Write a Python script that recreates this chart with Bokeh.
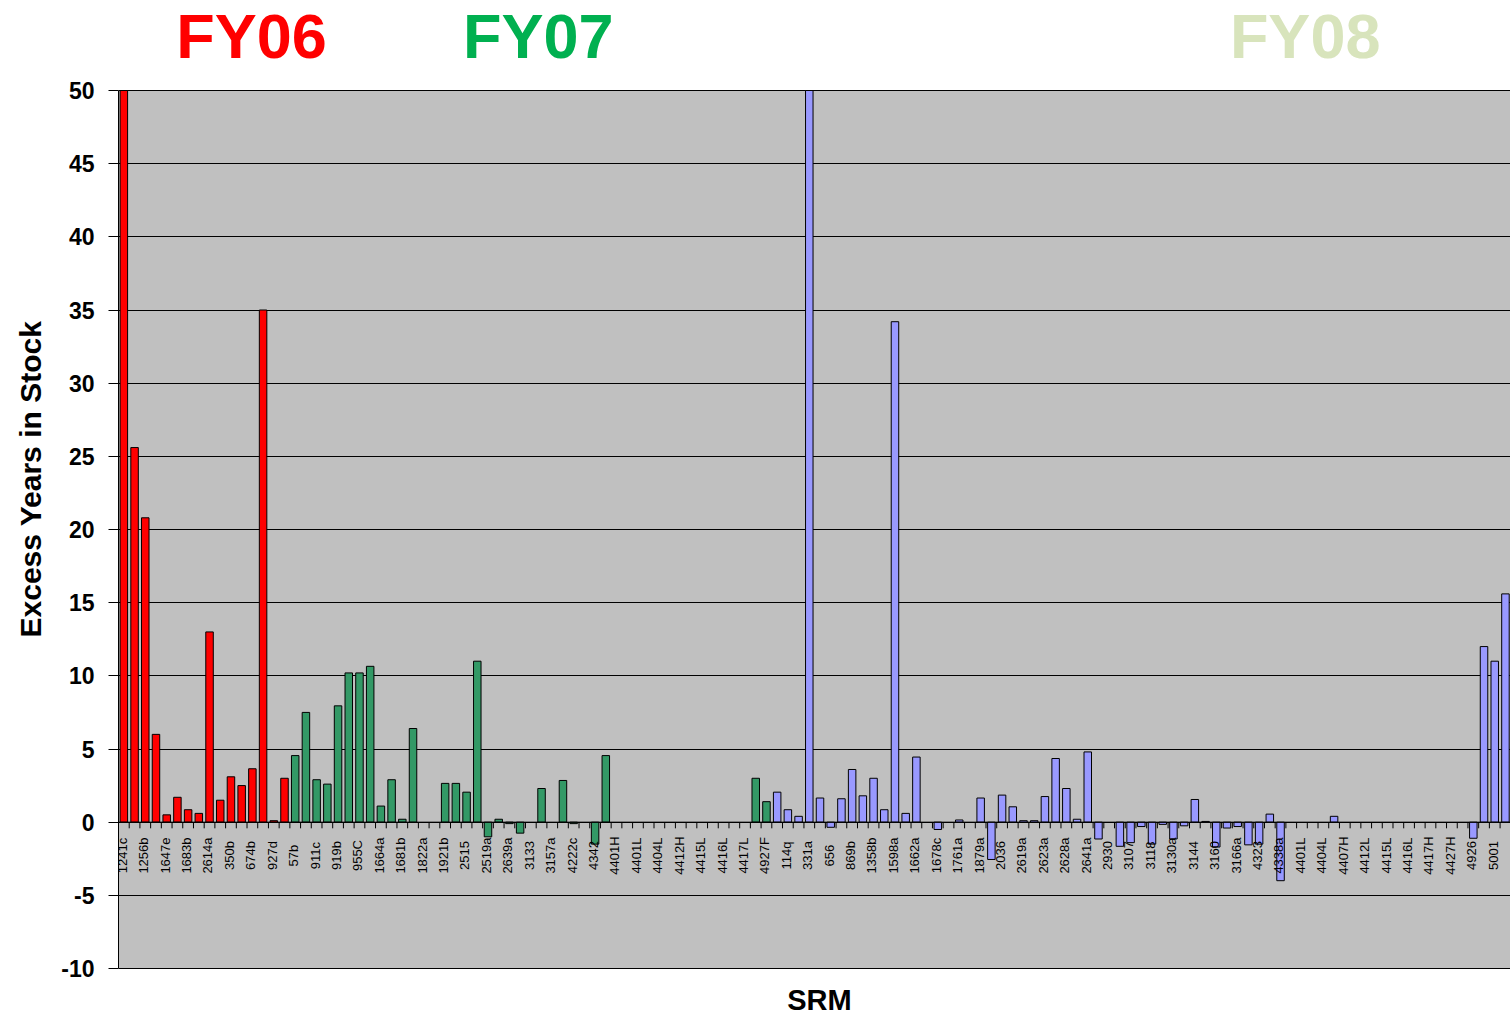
import math
from bokeh.plotting import figure
from bokeh.models import FixedTicker, Label, ColumnDataSource, Range1d, Title
from bokeh.core.properties import value
from bokeh.embed import file_html
from bokeh.resources import INLINE

# ---- data ----
srm_labels = ["1241c", "1256b", "1647e", "1683b", "2614a", "350b", "674b", "927d",
              "57b", "911c", "919b", "955C", "1664a", "1681b", "1822a", "1921b",
              "2515", "2519a", "2639a", "3133", "3157a", "4222c", "4342", "4401H",
              "4401L", "4404L", "4412H", "4415L", "4416L", "4417L", "4927F", "114q",
              "331a", "656", "869b", "1358b", "1598a", "1662a", "1678c", "1761a",
              "1879a", "2036", "2619a", "2623a", "2628a", "2641a", "2930", "3107",
              "3118", "3130a", "3144", "3160", "3166a", "4323", "4338a", "4401L",
              "4404L", "4407H", "4412L", "4415L", "4416L", "4417H", "4427H", "4926",
              "5001"]

fy06_values = [55, 25.6, 20.8, 6.0, 0.5, 1.7, 0.85, 0.6, 13.0, 1.5, 3.1, 2.5, 3.65,
               35.0, 0.1, 3.0]

fy07_values = [4.55, 7.5, 2.9, 2.6, 7.95, 10.2, 10.2, 10.65, 1.1, 2.9, 0.2, 6.4,
               None, None, 2.65, 2.65, 2.05, 11.0, -1.0, 0.2, -0.1, -0.75, None, 2.3,
               None, 2.85, -0.1, None, -1.5, 4.55,
               None, None, None, None, None, None, None, None, None, None, None, None, None,
               3.0, 1.4]

fy08_values = [2.05, 0.85, 0.4, 55, 1.65, -0.35, 1.6, 3.6, 1.8, 3.0, 0.85, 34.2, 0.6,
               4.45, None, -0.5, None, 0.15, None, 1.65, -2.55, 1.85, 1.05, 0.1, 0.1,
               1.75, 4.35, 2.3, 0.2, 4.8, -1.15, None, -1.65, -1.4, -0.3, -1.5, -0.15,
               -1.15, -0.25, 1.55, 0.05, -1.7, -0.4, -0.3, -1.55, -1.5, 0.55, -4.0,
               None, None, None, None, 0.4,
               None, None, None, None, None, None, None, None, None, None, None, None,
               -1.1, 12.0, 11.0, 15.6]

y_ticks = [-10, -5, 0, 5, 10, 15, 20, 25, 30, 35, 40, 45, 50]
y_min, y_max = -10, 50

series = [("FY06", fy06_values, "#FF0000"),
          ("FY07", fy07_values, "#339966"),
          ("FY08", fy08_values, "#9999FF")]

n_cats = len(fy06_values) + len(fy07_values) + len(fy08_values)

FONT = "Liberation Sans"

W, H = 1510, 1019
LEFT = 118
TOP, BOTTOM = 90, 51          # space above y=50 and below y=-10 inside the frame
px_per_unit = (H - TOP - BOTTOM) / (y_max - y_min)
view_top = y_max + TOP / px_per_unit
view_bot = y_min - BOTTOM / px_per_unit
x_end = (W - LEFT) / 10.71

p = figure(width=W, height=H, output_backend="svg", toolbar_location=None,
           x_range=Range1d(0, x_end), y_range=Range1d(view_bot, view_top),
           x_axis_location=None,
           min_border_left=LEFT, min_border_right=0, min_border_top=0,
           min_border_bottom=0)
p.background_fill_color = "white"
p.border_fill_color = "white"
p.outline_line_color = None

# grey plot area
p.quad(left=[0], right=[x_end], bottom=[y_min], top=[y_max], fill_color="#C0C0C0",
       line_color=None, level="image")

# y axis
p.yaxis.bounds = (y_min, y_max)
p.yaxis.ticker = FixedTicker(ticks=y_ticks)
p.yaxis.major_label_overrides = {t: str(t) for t in y_ticks}
p.yaxis.minor_tick_line_color = None
p.yaxis.major_tick_out = 10
p.yaxis.major_tick_in = 0
p.yaxis.major_tick_line_color = "black"
p.yaxis.axis_line_color = "black"
p.yaxis.major_label_text_font = FONT
p.yaxis.major_label_text_font_style = "bold"
p.yaxis.major_label_text_font_size = "23px"
p.yaxis.major_label_text_color = "black"
p.yaxis.major_label_standoff = 14

p.add_layout(Title(text="Excess Years in Stock", align="left", offset=H - 637,
                   text_font=FONT, text_font_style="bold", text_font_size="30px",
                   text_color="black", standoff=23), "left")

p.xgrid.grid_line_color = None
p.ygrid.ticker = FixedTicker(ticks=y_ticks)
p.ygrid.grid_line_color = "black"
p.ygrid.grid_line_width = 1

# bars (clipped to the axis maximum like the original chart)
start = 0
for name, vals, color in series:
    xs, tops = [], []
    for i, v in enumerate(vals):
        if v is not None:
            xs.append(start + i + 0.5)
            tops.append(min(v, y_max))
    src = ColumnDataSource(dict(x=xs, top=tops))
    p.vbar(x="x", top="top", bottom=0, width=0.7, source=src,
           fill_color=color, line_color="black", line_width=1)
    start += len(vals)

# zero axis line with category ticks
p.segment(x0=[0], y0=[0], x1=[x_end], y1=[0], line_color="black", line_width=1)
bounds = list(range(n_cats + 1))
p.segment(x0=bounds, y0=[0] * len(bounds), x1=bounds, y1=[-0.42] * len(bounds),
          line_color="black", line_width=1)

# category labels (every other category)
lab_src = ColumnDataSource(dict(x=[2 * k + 0.5 - 0.15 for k in range(len(srm_labels))],
                                y=[-2.28] * len(srm_labels), t=srm_labels))
p.text(x="x", y="y", text="t", source=lab_src, angle=math.pi / 2,
       text_align="center", text_baseline="middle", text_font=value(FONT),
       text_font_size="13px", text_color="black")

# period titles
for txt, xpos, color in [("FY06", 12.42, "#FF0000"), ("FY07", 39.2, "#00B050"),
                         ("FY08", 110.8, "#D8E4BC")]:
    p.add_layout(Label(x=xpos, y=y_max + 55 / px_per_unit, text=txt,
                       text_align="center", text_baseline="middle", text_font=FONT,
                       text_font_style="bold", text_font_size="63px",
                       text_color=color))

p.add_layout(Label(x=65.45, y=y_min - 31 / px_per_unit, text="SRM", text_align="center",
                   text_baseline="middle", text_font=FONT, text_font_style="bold",
                   text_font_size="29px", text_color="black"))

open("out.html", "w").write(file_html(p, INLINE))
